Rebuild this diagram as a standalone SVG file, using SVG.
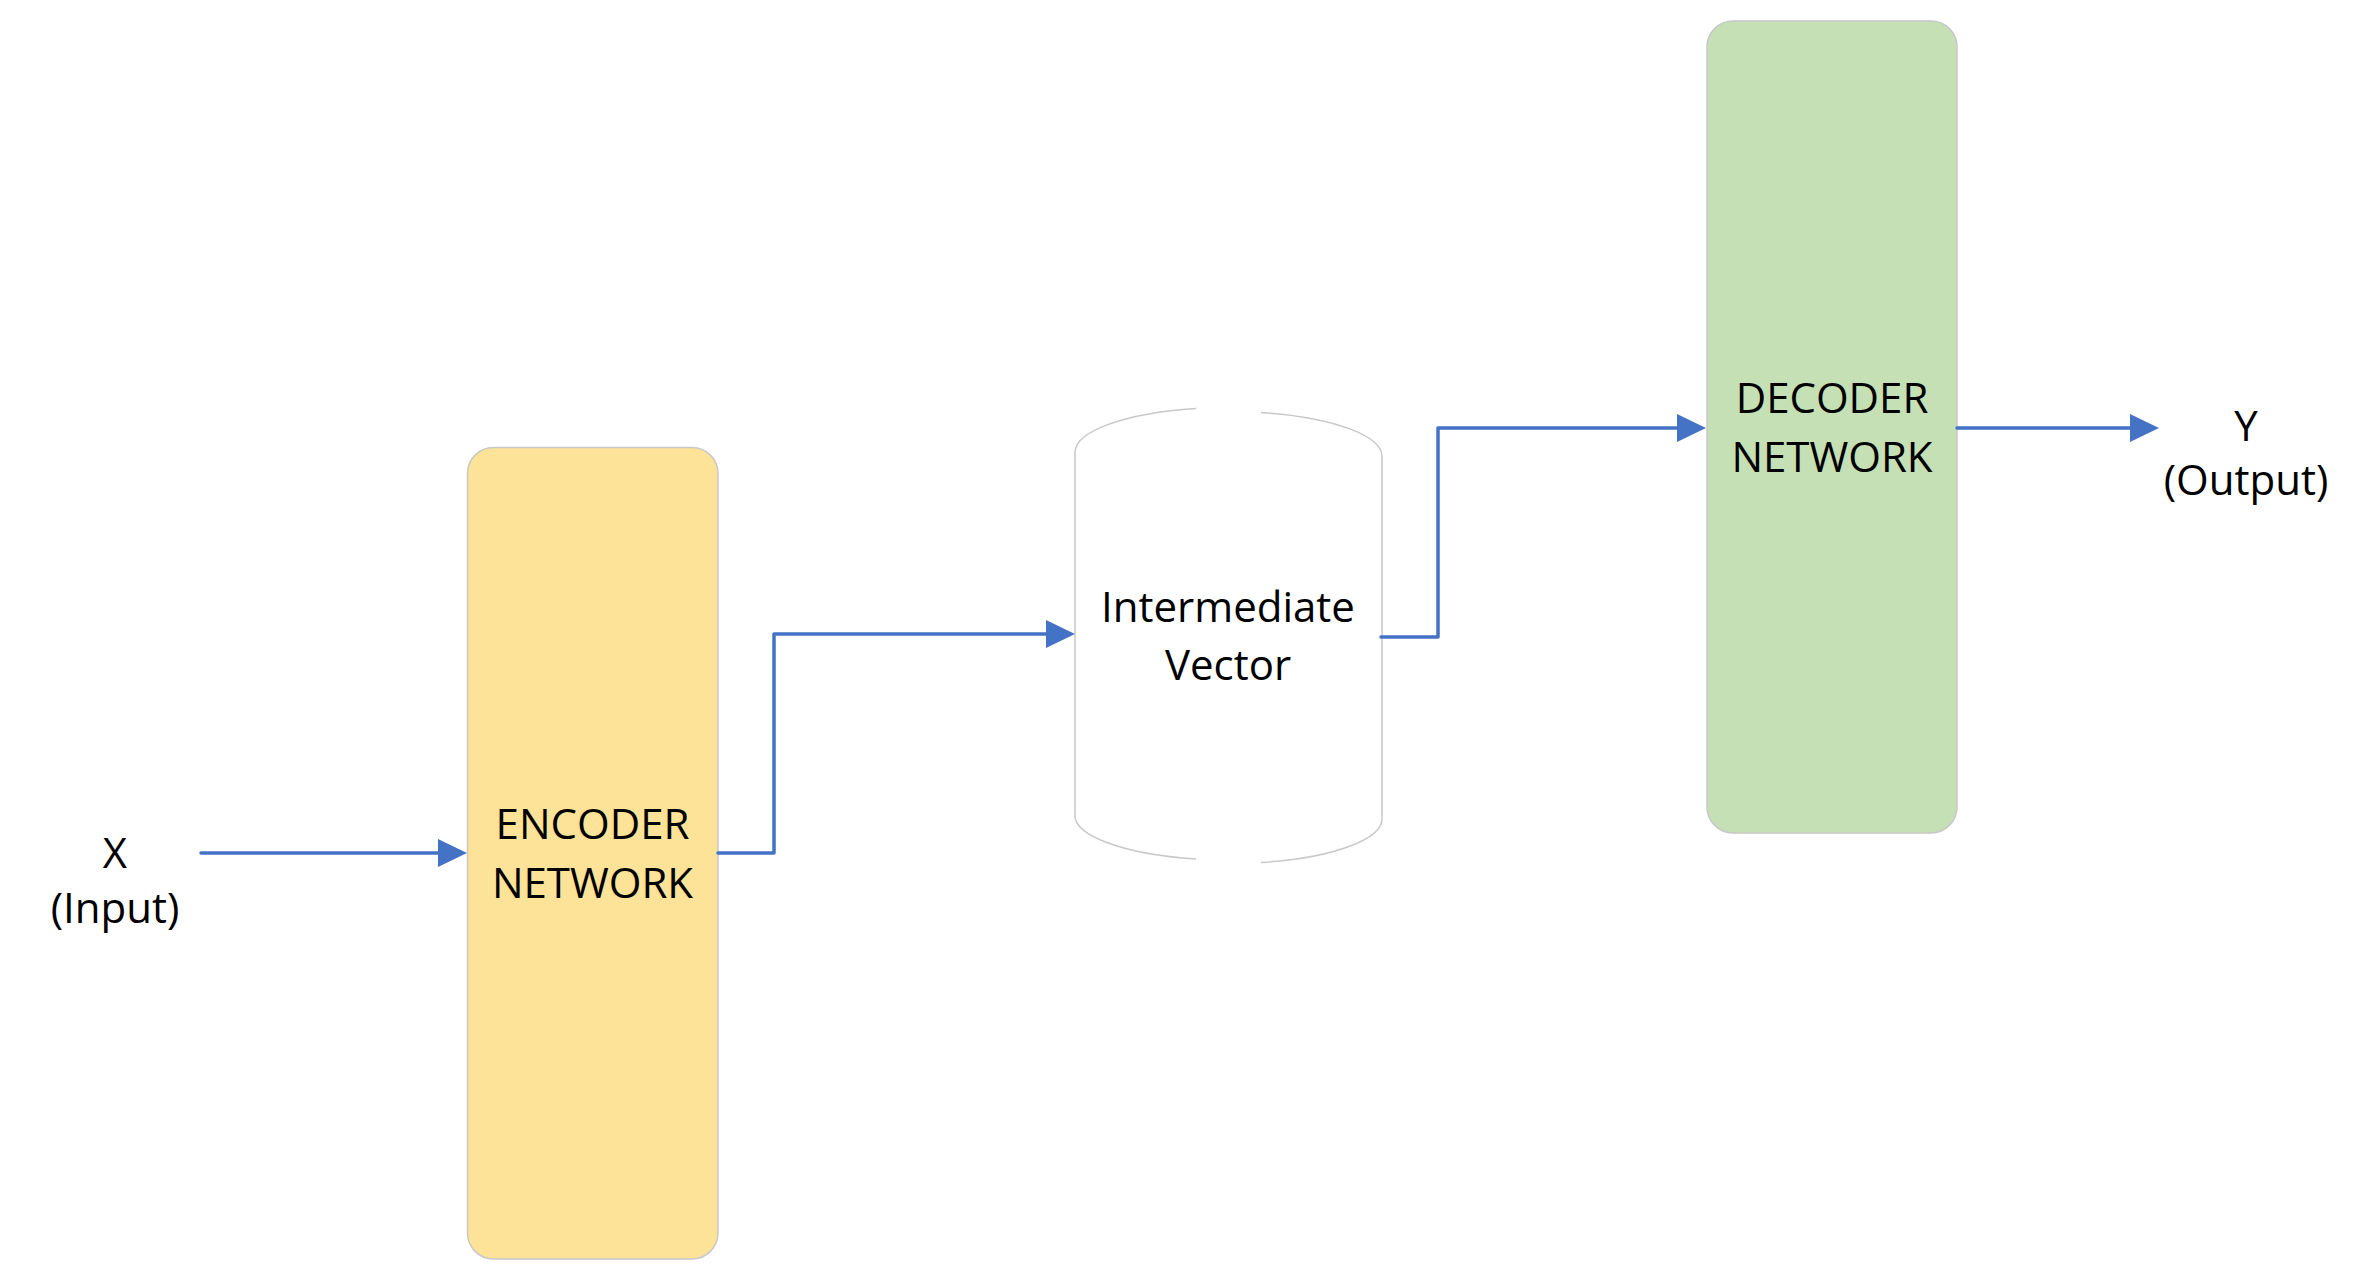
<svg xmlns="http://www.w3.org/2000/svg" width="2380" height="1282" viewBox="0 0 2380 1282">
<style>
.t{font-family:"Open Sans","Noto Sans","Liberation Sans",sans-serif;font-size:42px;fill:#000;text-anchor:middle}
.c{fill:none;stroke:#4472C4;stroke-width:3.5;stroke-linejoin:round;stroke-linecap:round}
.h{fill:#4472C4}
.cyl{fill:none;stroke:#c8c8c8;stroke-width:1.5}
.box{stroke:#c8c8c8;stroke-width:1.5}
</style>
<g id="input">
<text class="t" x="115" y="868">X</text>
<text class="t" x="115" y="923">(Input)</text>
</g>
<g id="encoder">
<rect class="box" x="467.5" y="447.5" width="250.5" height="811.5" rx="26" fill="#FDE398"/>
<text class="t" x="592.5" y="839">ENCODER</text>
<text class="t" x="592.5" y="898">NETWORK</text>
</g>
<g id="vector">
<path class="cyl" d="M1196,408.5 A153,45 0 0 0 1075,453 L1075,813 A153,45 0 0 0 1196,859"/>
<path class="cyl" d="M1261,412.5 A153,45 0 0 1 1382,457 L1382,817 A153,45 0 0 1 1261,862.5"/>
<text class="t" x="1228" y="622">Intermediate</text>
<text class="t" x="1228" y="680">Vector</text>
</g>
<g id="decoder">
<rect class="box" x="1707" y="21" width="250" height="812" rx="26" fill="#C5E0B4"/>
<text class="t" x="1832" y="413">DECODER</text>
<text class="t" x="1832" y="472">NETWORK</text>
</g>
<g id="output">
<text class="t" x="2246" y="441">Y</text>
<text class="t" x="2246" y="495">(Output)</text>
</g>
<g id="connectors">
<path class="c" d="M201,853 L440,853"/>
<path class="h" d="M438,839 L467,853 L438,867 Z"/>
<path class="c" d="M718,853 L774,853 L774,634 L1048,634"/>
<path class="h" d="M1046,620 L1075,634 L1046,648 Z"/>
<path class="c" d="M1381,637 L1438,637 L1438,428 L1680,428"/>
<path class="h" d="M1677,414 L1706,428 L1677,442 Z"/>
<path class="c" d="M1957,428 L2132,428"/>
<path class="h" d="M2130,414 L2159,428 L2130,442 Z"/>
</g>
</svg>
